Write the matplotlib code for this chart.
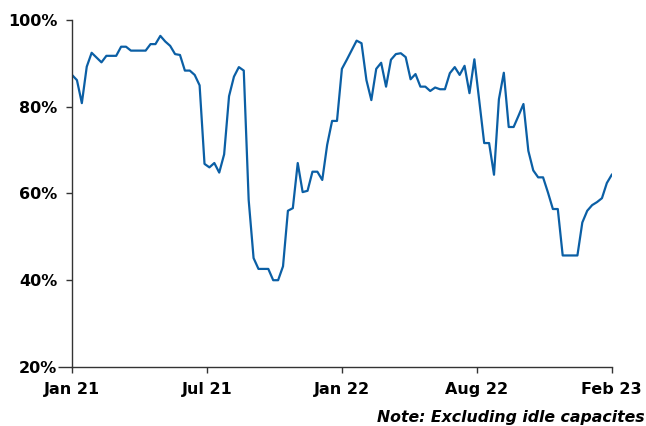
import numpy as np
import matplotlib.pyplot as plt
from matplotlib.ticker import FuncFormatter

# Weekly utilisation rate (%), Jan 2021 - Feb 2023
utilisation = [
    87.3, 86.1, 80.8, 89.2, 92.4, 91.3, 90.2, 91.7, 91.7, 91.7,
    93.8, 93.8, 92.9, 92.9, 92.9, 92.9, 94.4, 94.4, 96.3, 95.0,
    94.0, 92.1, 91.9, 88.3, 88.3, 87.3, 84.9, 66.8, 66.0, 67.0,
    64.8, 69.0, 82.4, 86.9, 89.1, 88.3, 58.5, 45.1, 42.6, 42.6,
    42.6, 40.0, 40.0, 43.2, 56.0, 56.6, 67.0, 60.3, 60.6, 65.0,
    65.0, 63.1, 71.2, 76.7, 76.7, 88.7, 90.8, 93.0, 95.2, 94.6,
    86.1, 81.5, 88.7, 90.1, 84.6, 90.8, 92.1, 92.3, 91.4, 86.3,
    87.5, 84.6, 84.6, 83.6, 84.4, 84.0, 84.0, 87.7, 89.1, 87.3,
    89.4, 83.1, 90.9, 81.3, 71.6, 71.6, 64.3, 81.7, 87.8, 75.3,
    75.3, 77.9, 80.6, 69.8, 65.3, 63.7, 63.7, 60.2, 56.4, 56.4,
    45.7, 45.7, 45.7, 45.7, 53.3, 56.0, 57.3, 58.0, 58.9, 62.4,
    64.3,
]
tick_labels = ['Jan 21', 'Jul 21', 'Jan 22', 'Aug 22', 'Feb 23']
y_ticks = [20, 40, 60, 80, 100]

weeks = np.arange(len(utilisation))

fig = plt.figure(figsize=(6.46, 4.26), dpi=100)
ax = fig.add_axes([0.1115, 0.1385, 0.8355, 0.815])

ax.plot(weeks, utilisation, color='#0B5FA5', linewidth=1.6)

ax.set_xlim(0, len(utilisation) - 1)
ax.set_ylim(20, 100)
ax.set_xticks(np.linspace(0, len(utilisation) - 1, len(tick_labels)))
ax.set_xticklabels(tick_labels)
ax.set_yticks(y_ticks)
ax.yaxis.set_major_formatter(FuncFormatter(lambda v, p: f'{v:.0f}%'))

for side in ['top', 'right']:
    ax.spines[side].set_visible(False)
for side in ['left', 'bottom']:
    ax.spines[side].set_color('#333333')
    ax.spines[side].set_linewidth(1.0)

ax.tick_params(direction='out', length=4.5, width=1, color='#333333',
               labelsize=11.5, pad=6)
for lbl in ax.get_xticklabels() + ax.get_yticklabels():
    lbl.set_fontweight('bold')

# bottom y tick runs a bit further left, like the baseline continues
ax.yaxis.get_major_ticks()[0].tick1line.set_markersize(10)

fig.text(0.998, 0.01, 'Note: Excluding idle capacites', ha='right', va='baseline',
         fontsize=11.3, fontweight='bold', fontstyle='italic')

fig.savefig('out.png', dpi=100)
